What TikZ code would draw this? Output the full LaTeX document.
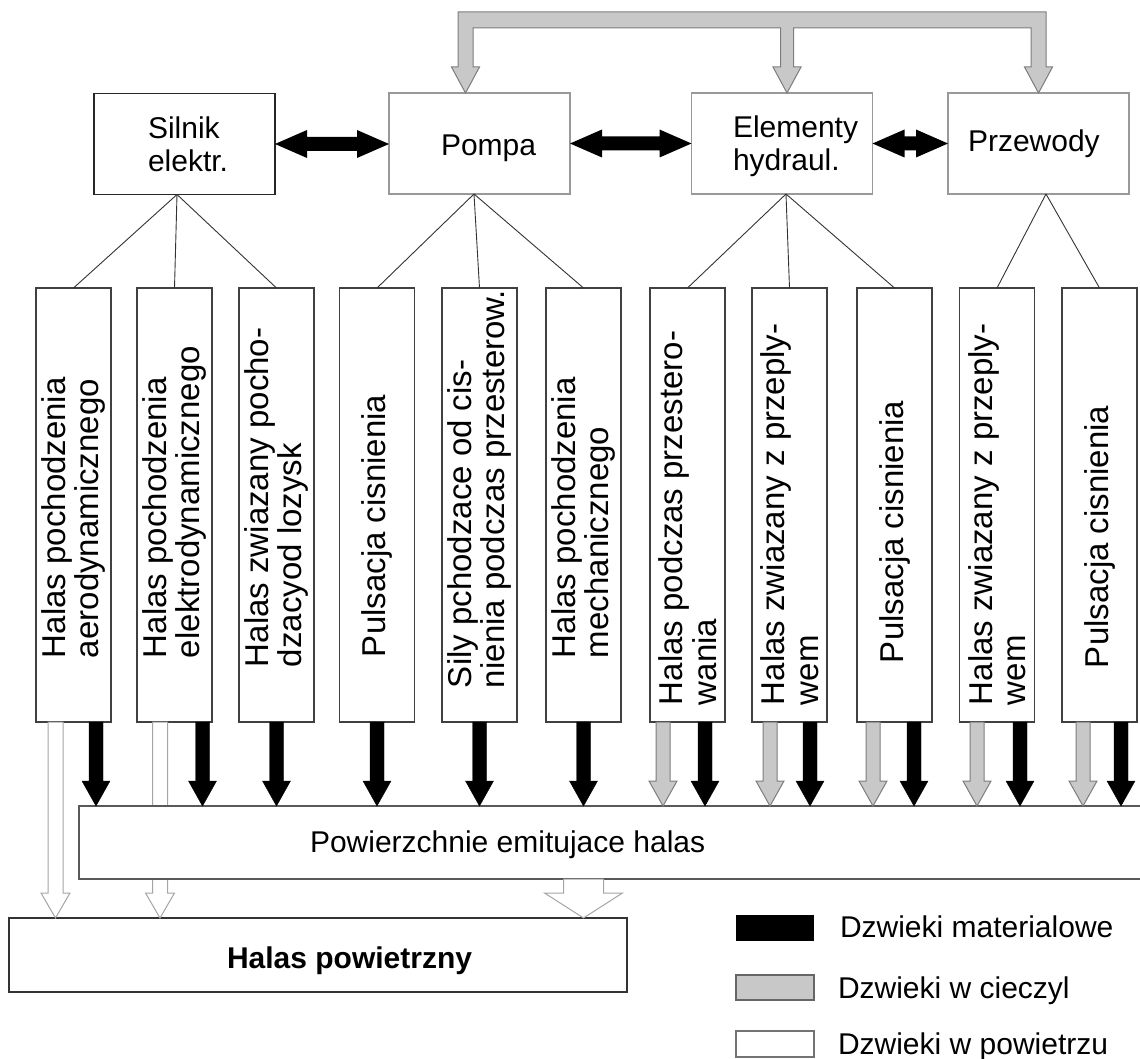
\documentclass[tikz,border=0pt]{standalone}
\usepackage{fontspec}
\setmainfont{Liberation Sans}
\usetikzlibrary{calc}

\definecolor{liquid}{RGB}{200,200,200}
\definecolor{liqline}{RGB}{125,125,125}
\definecolor{airline}{RGB}{165,165,165}

% fat arrow pointing down: style, start point, target, half shaft, half head
\newcommand{\downblock}[5]{%
  \draw[#1] let \p1=(#2), \p2=(#3) in
    (\x1-#4,\y1) -- (\x1+#4,\y1) -- (\x1+#4,\y2+25pt) -- (\x1+#5,\y2+25pt)
    -- (\x1,\y2) -- (\x1-#5,\y2+25pt) -- (\x1-#4,\y2+25pt) -- cycle;}

% fat double arrow between two boxes
\newcommand{\bothblock}[2]{%
  \fill let \p1=(#1), \p2=(#2) in
    (\x1,\y1) -- (\x1+32pt,\y1+14pt) -- (\x1+32pt,\y1+7pt) -- (\x2-32pt,\y1+7pt)
    -- (\x2-32pt,\y1+14pt) -- (\x2,\y1) -- (\x2-32pt,\y1-14pt) -- (\x2-32pt,\y1-7pt)
    -- (\x1+32pt,\y1-7pt) -- (\x1+32pt,\y1-14pt) -- cycle;}

\begin{document}
\begin{tikzpicture}[x=1pt, y=1pt, every node/.style={inner sep=0, outer sep=0},
    topbox/.style={draw=black!40, line width=1.2pt, minimum width=181pt, minimum height=101pt},
    srcbox/.style={draw=black!75, line width=1.1pt, fill=white, minimum width=75pt, minimum height=434pt},
    toptext/.style={font=\fontsize{30}{33}\selectfont, align=left},
    srctext/.style={font=\fontsize{33}{33.4}\selectfont, align=left, rotate=90, anchor=west},
    branchline/.style={draw=black!80, line width=0.9pt},
    solidnoise/.style={fill=black, draw=black},
    liquidnoise/.style={fill=liquid, draw=liqline, line width=1pt},
    airnoise/.style={fill=white, draw=airline, line width=1pt}]
    \useasboundingbox (0,0) rectangle (1140,-1059);
    \clip (0,0) rectangle (1140,-1059);

    \node[topbox, draw=black!85](Silnik) at (184.5,-144) {};
    \node[topbox](Pompa) at (479.5,-143.5) {};
    \node[topbox](Elem) at (782,-143.5) {};
    \node[topbox](Przew) at (1038.5,-143.5) {};
    \node[toptext, anchor=north west](SilnikT) at (148,-117) {Silnik\\elektr.};
    \node[toptext, anchor=base west](PompaT) at (441,-156) {Pompa};
    \node[toptext, anchor=north west](ElemT) at (733,-116) {Elementy\\hydraul.};
    \node[toptext, anchor=base west](PrzewT) at (968,-152) {Przewody};

    \bothblock{Silnik.east}{Pompa.west}
    \bothblock{Pompa.east}{Elem.west}
    \bothblock{Elem.east}{Przew.west}

    % liquid path over the hydraulic part
    \coordinate (GP) at ([xshift=-14pt]Pompa.north);
    \coordinate (GE) at ([xshift=5pt]Elem.north);
    \coordinate (GZ) at (Przew.north);
    \draw[liquidnoise] let \p1=(GP), \p2=(GE), \p3=(GZ) in
        (\x1-7.5pt,\y1+26pt) -- (\x1-7.5pt,\y1+81pt) -- (\x3+7.5pt,\y1+81pt) -- (\x3+7.5pt,\y1+26pt)
        -- (\x3+14pt,\y1+26pt) -- (\x3,\y1) -- (\x3-14pt,\y1+26pt) -- (\x3-7.5pt,\y1+26pt)
        -- (\x3-7.5pt,\y1+65pt) -- (\x2+6.5pt,\y1+65pt) -- (\x2+6.5pt,\y1+26pt)
        -- (\x2+14pt,\y1+26pt) -- (\x2,\y1) -- (\x2-14pt,\y1+26pt) -- (\x2-6.5pt,\y1+26pt)
        -- (\x2-6.5pt,\y1+65pt) -- (\x1+7.5pt,\y1+65pt) -- (\x1+7.5pt,\y1+26pt)
        -- (\x1+14pt,\y1+26pt) -- (\x1,\y1) -- (\x1-14pt,\y1+26pt) -- cycle;

    \node[srcbox](Z_1) at (73.5,-505) {};
    \node[srcbox](Z_2) at (174.5,-505) {};
    \node[srcbox](Z_3) at (276.5,-505) {};
    \node[srcbox](Z_4) at (377,-505) {};
    \node[srcbox](Z_5) at (479.5,-505) {};
    \node[srcbox](Z_6) at (583.5,-505) {};
    \node[srcbox](Z_7) at (687.5,-505) {};
    \node[srcbox](Z_8) at (789.5,-505) {};
    \node[srcbox](Z_9) at (894.5,-505) {};
    \node[srcbox](Z_10) at (997,-505) {};
    \node[srcbox](Z_11) at (1099.5,-505) {};

    \node[srctext](L_1) at (73.5,-658) {Halas pochodzenia\\aerodynamicznego};
    \node[srctext](L_2) at (174.5,-658) {Halas pochodzenia\\elektrodynamicznego};
    \node[srctext](L_3) at (276.5,-667) {Halas zwiazany pocho-\\dzacyod lozysk};
    \node[srctext](L_4) at (377,-657) {Pulsacja cisnienia};
    \node[srctext](L_5) at (479.5,-688) {Sily pchodzace od cis-\\nienia podczas przesterow.};
    \node[srctext](L_6) at (583.5,-658) {Halas pochodzenia\\mechanicznego};
    \node[srctext](L_7) at (687.5,-705) {Halas podczas przestero-\\wania};
    \node[srctext](L_8) at (789.5,-705) {Halas zwiazany z przeply-\\wem};
    \node[srctext](L_9) at (894.5,-663) {Pulsacja cisnienia};
    \node[srctext](L_10) at (997,-705) {Halas zwiazany z przeply-\\wem};
    \node[srctext](L_11) at (1099.5,-668) {Pulsacja cisnienia};

    \path[branchline] ([xshift=-7.5pt]Silnik.south) edge (Z_1.north) edge (Z_2.north) edge (Z_3.north);
    \path[branchline] ([xshift=-5.5pt]Pompa.south) edge (Z_4.north) edge (Z_5.north) edge (Z_6.north);
    \path[branchline] ([xshift=4pt]Elem.south) edge (Z_7.north) edge (Z_8.north) edge (Z_9.north);
    \path[branchline] ([xshift=7.5pt]Przew.south) edge (Z_10.north) edge (Z_11.north);

    % air noise goes straight out (second one runs behind the surfaces)
    \node[draw=black!80, line width=1.2pt, minimum width=618pt, minimum height=74pt](Halas) at (318,-955) {};
    \node[anchor=base west, font=\fontsize{30}{33}\selectfont\bfseries](HalasT) at (227,-968) {Halas powietrzny};
    \downblock{airnoise}{[xshift=-18pt]Z_1.south}{Halas.north}{7.5pt}{14.5pt}
    \downblock{airnoise}{[xshift=-14.5pt]Z_2.south}{Halas.north}{7.5pt}{14.5pt}

    \node[draw=black!65, line width=1.3pt, fill=white, minimum width=1071pt, minimum height=73pt](Surf) at (614.5,-842.5) {};
    \node[anchor=base west, font=\fontsize{30}{33}\selectfont](SurfT) at (310,-852) {Powierzchnie emitujace halas};
    \downblock{airnoise}{Z_6.south |- Surf.south}{Halas.north}{20pt}{39pt}

    % structure-borne
    \downblock{solidnoise}{[xshift=22.5pt]Z_1.south}{Surf.north}{7pt}{14pt}
    \downblock{solidnoise}{[xshift=28pt]Z_2.south}{Surf.north}{7pt}{14pt}
    \downblock{solidnoise}{Z_3.south}{Surf.north}{7pt}{14pt}
    \downblock{solidnoise}{Z_4.south}{Surf.north}{7pt}{14pt}
    \downblock{solidnoise}{Z_5.south}{Surf.north}{7pt}{14pt}
    \downblock{solidnoise}{Z_6.south}{Surf.north}{7pt}{14pt}
    \downblock{solidnoise}{[xshift=17.5pt]Z_7.south}{Surf.north}{7pt}{14pt}
    \downblock{solidnoise}{[xshift=20.5pt]Z_8.south}{Surf.north}{7pt}{14pt}
    \downblock{solidnoise}{[xshift=19.5pt]Z_9.south}{Surf.north}{7pt}{14pt}
    \downblock{solidnoise}{[xshift=23pt]Z_10.south}{Surf.north}{7pt}{14pt}
    \downblock{solidnoise}{[xshift=21.5pt]Z_11.south}{Surf.north}{7pt}{14pt}

    % fluid-borne
    \downblock{liquidnoise}{[xshift=-24.5pt]Z_7.south}{Surf.north}{7pt}{14pt}
    \downblock{liquidnoise}{[xshift=-19.5pt]Z_8.south}{Surf.north}{7pt}{14pt}
    \downblock{liquidnoise}{[xshift=-21.5pt]Z_9.south}{Surf.north}{7pt}{14pt}
    \downblock{liquidnoise}{[xshift=-20pt]Z_10.south}{Surf.north}{7pt}{14pt}
    \downblock{liquidnoise}{[xshift=-16.5pt]Z_11.south}{Surf.north}{7pt}{14pt}

    % legend
    \node[fill=black, minimum width=78pt, minimum height=26pt](LegM) at (775,-928) {};
    \node[fill=liquid, draw=black!60, line width=1.3pt, minimum width=78pt, minimum height=25pt](LegL) at (775,-987.5) {};
    \node[fill=white, draw=black!55, line width=1.3pt, minimum width=78pt, minimum height=26pt](LegA) at (775,-1044) {};
    \node[anchor=base west, font=\fontsize{30}{33}\selectfont](LegMT) at (840,-937) {Dzwieki materialowe};
    \node[anchor=base west, font=\fontsize{30}{33}\selectfont](LegLT) at (838,-998) {Dzwieki w cieczyl};
    \node[anchor=base west, font=\fontsize{30}{33}\selectfont](LegAT) at (838,-1054) {Dzwieki w powietrzu};
\end{tikzpicture}
\end{document}
